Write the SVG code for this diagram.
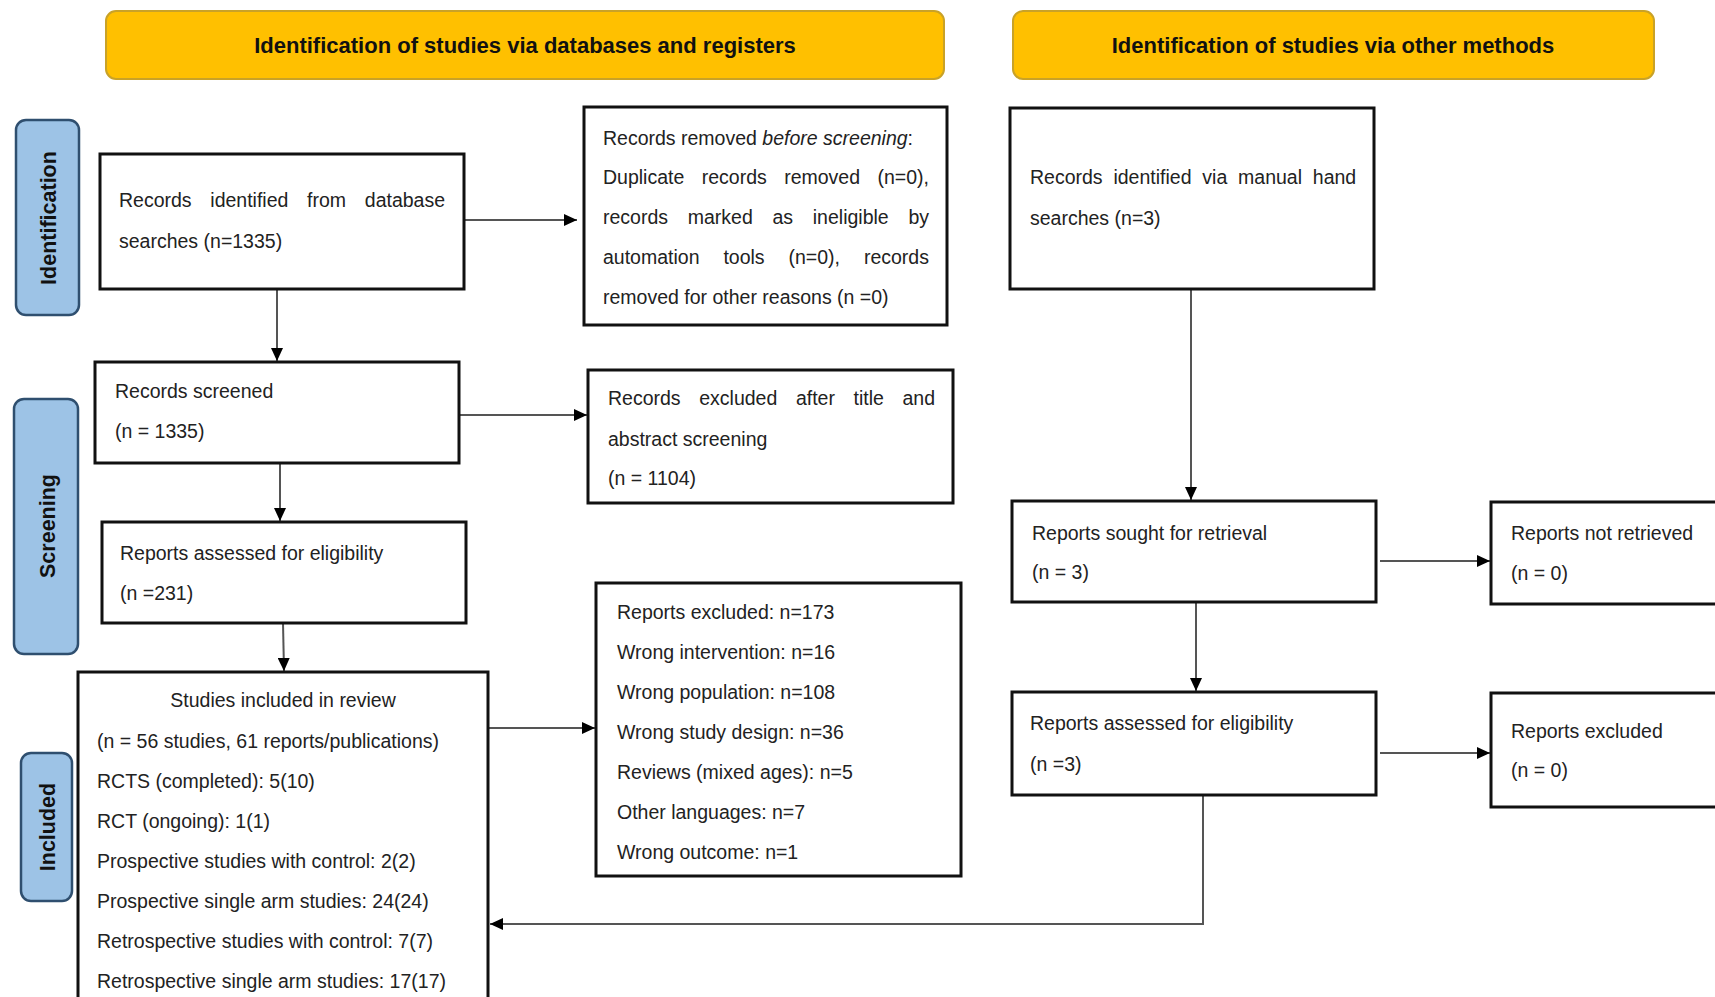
<svg xmlns="http://www.w3.org/2000/svg" width="1715" height="997" viewBox="0 0 1715 997">
<defs>
<style>
.hdr{fill:#FFC000;stroke:#C9A227;stroke-width:2}
.side{fill:#9DC3E6;stroke:#2F4F6F;stroke-width:2.5}
.box{fill:#fff;stroke:#111;stroke-width:3}
.t{font-family:"Liberation Sans",Arial,sans-serif;font-size:19.5px;fill:#222}
.ht{font-family:"Liberation Sans",Arial,sans-serif;font-size:22px;font-weight:bold;fill:#111;text-anchor:middle}
.st{font-family:"Liberation Sans",Arial,sans-serif;font-size:21.5px;font-weight:bold;fill:#111;text-anchor:middle}
.c{fill:none;stroke:#555;stroke-width:2}
</style>
<marker id="ah" viewBox="0 0 13 12" refX="13" refY="6" markerWidth="13" markerHeight="12" markerUnits="userSpaceOnUse" orient="auto">
<path d="M0,0 L13,6 L0,12 z" fill="#000"/>
</marker>
</defs>
<rect width="1715" height="997" fill="#fff"/>

<g id="header-databases">
<rect class="hdr" x="106" y="11" width="838" height="68" rx="10"/>
<text class="ht" x="525" y="53">Identification of studies via databases and registers</text>
</g>
<g id="header-other">
<rect class="hdr" x="1013" y="11" width="641" height="68" rx="10"/>
<text class="ht" x="1333" y="53">Identification of studies via other methods</text>
</g>

<g id="label-identification">
<rect class="side" x="16" y="120" width="63" height="195" rx="10"/>
<text class="st" transform="translate(48,218) rotate(-90)" y="7.7">Identification</text>
</g>
<g id="label-screening">
<rect class="side" x="14" y="399" width="64" height="255" rx="10"/>
<text class="st" transform="translate(47,526) rotate(-90)" y="7.7">Screening</text>
</g>
<g id="label-included">
<rect class="side" x="21" y="753" width="51" height="148" rx="10"/>
<text class="st" transform="translate(47,827) rotate(-90)" y="7.7">Included</text>
</g>

<g id="connectors">
<line class="c" x1="464" y1="220" x2="577" y2="220" marker-end="url(#ah)"/>
<line class="c" x1="277" y1="289" x2="277" y2="361" marker-end="url(#ah)"/>
<line class="c" x1="459" y1="415" x2="587" y2="415" marker-end="url(#ah)"/>
<line class="c" x1="280" y1="463" x2="280" y2="521" marker-end="url(#ah)"/>
<line class="c" x1="283" y1="623" x2="284" y2="671" marker-end="url(#ah)"/>
<line class="c" x1="488" y1="728" x2="595" y2="728" marker-end="url(#ah)"/>
<line class="c" x1="1191" y1="289" x2="1191" y2="500" marker-end="url(#ah)"/>
<line class="c" x1="1380" y1="561" x2="1490" y2="561" marker-end="url(#ah)"/>
<line class="c" x1="1196" y1="602" x2="1196" y2="691" marker-end="url(#ah)"/>
<line class="c" x1="1380" y1="753" x2="1490" y2="753" marker-end="url(#ah)"/>
<path class="c" d="M1203,795 L1203,924 L490,924" marker-end="url(#ah)"/>
</g>

<g id="records-identified">
<rect class="box" x="100" y="154" width="364" height="135"/>
<text class="t" x="119" y="207" word-spacing="13.3">Records identified from database</text>
<text class="t" x="119" y="248">searches (n=1335)</text>
</g>

<g id="records-removed">
<rect class="box" x="584" y="107" width="363" height="218"/>
<text class="t" x="603" y="145">Records removed <tspan font-style="italic">before screening</tspan>:</text>
<text class="t" x="603" y="184" word-spacing="12">Duplicate records removed (n=0),</text>
<text class="t" x="603" y="224" word-spacing="14.3">records marked as ineligible by</text>
<text class="t" x="603" y="264" word-spacing="18.5">automation tools (n=0), records</text>
<text class="t" x="603" y="304">removed for other reasons (n =0)</text>
</g>

<g id="manual-search">
<rect class="box" x="1010" y="108" width="364" height="181"/>
<text class="t" x="1030" y="184" word-spacing="5.4">Records identified via manual hand</text>
<text class="t" x="1030" y="225">searches (n=3)</text>
</g>

<g id="records-screened">
<rect class="box" x="95" y="362" width="364" height="101"/>
<text class="t" x="115" y="398">Records screened</text>
<text class="t" x="115" y="438">(n = 1335)</text>
</g>

<g id="records-excluded">
<rect class="box" x="588" y="370" width="365" height="133"/>
<text class="t" x="608" y="405" word-spacing="13.2">Records excluded after title and</text>
<text class="t" x="608" y="446">abstract screening</text>
<text class="t" x="608" y="485">(n = 1104)</text>
</g>

<g id="reports-assessed">
<rect class="box" x="102" y="522" width="364" height="101"/>
<text class="t" x="120" y="560">Reports assessed for eligibility</text>
<text class="t" x="120" y="600">(n =231)</text>
</g>

<g id="studies-included">
<rect class="box" x="78" y="672" width="410" height="340"/>
<text class="t" x="283" y="707" text-anchor="middle">Studies included in review</text>
<text class="t" x="97" y="748">(n = 56 studies, 61 reports/publications)</text>
<text class="t" x="97" y="788">RCTS (completed): 5(10)</text>
<text class="t" x="97" y="828">RCT (ongoing): 1(1)</text>
<text class="t" x="97" y="868">Prospective studies with control: 2(2)</text>
<text class="t" x="97" y="908">Prospective single arm studies: 24(24)</text>
<text class="t" x="97" y="948">Retrospective studies with control: 7(7)</text>
<text class="t" x="97" y="988">Retrospective single arm studies: 17(17)</text>
</g>

<g id="reports-excluded">
<rect class="box" x="596" y="583" width="365" height="293"/>
<text class="t" x="617" y="619">Reports excluded: n=173</text>
<text class="t" x="617" y="659">Wrong intervention: n=16</text>
<text class="t" x="617" y="699">Wrong population: n=108</text>
<text class="t" x="617" y="739">Wrong study design: n=36</text>
<text class="t" x="617" y="779">Reviews (mixed ages): n=5</text>
<text class="t" x="617" y="819">Other languages: n=7</text>
<text class="t" x="617" y="859">Wrong outcome: n=1</text>
</g>

<g id="reports-sought">
<rect class="box" x="1012" y="501" width="364" height="101"/>
<text class="t" x="1032" y="540">Reports sought for retrieval</text>
<text class="t" x="1032" y="579">(n = 3)</text>
</g>

<g id="reports-not-retrieved">
<rect class="box" x="1491" y="502" width="240" height="102"/>
<text class="t" x="1511" y="540">Reports not retrieved</text>
<text class="t" x="1511" y="580">(n = 0)</text>
</g>

<g id="reports-assessed-other">
<rect class="box" x="1012" y="692" width="364" height="103"/>
<text class="t" x="1030" y="730">Reports assessed for eligibility</text>
<text class="t" x="1030" y="771">(n =3)</text>
</g>

<g id="reports-excluded-other">
<rect class="box" x="1491" y="693" width="240" height="114"/>
<text class="t" x="1511" y="738">Reports excluded</text>
<text class="t" x="1511" y="777">(n = 0)</text>
</g>
</svg>
